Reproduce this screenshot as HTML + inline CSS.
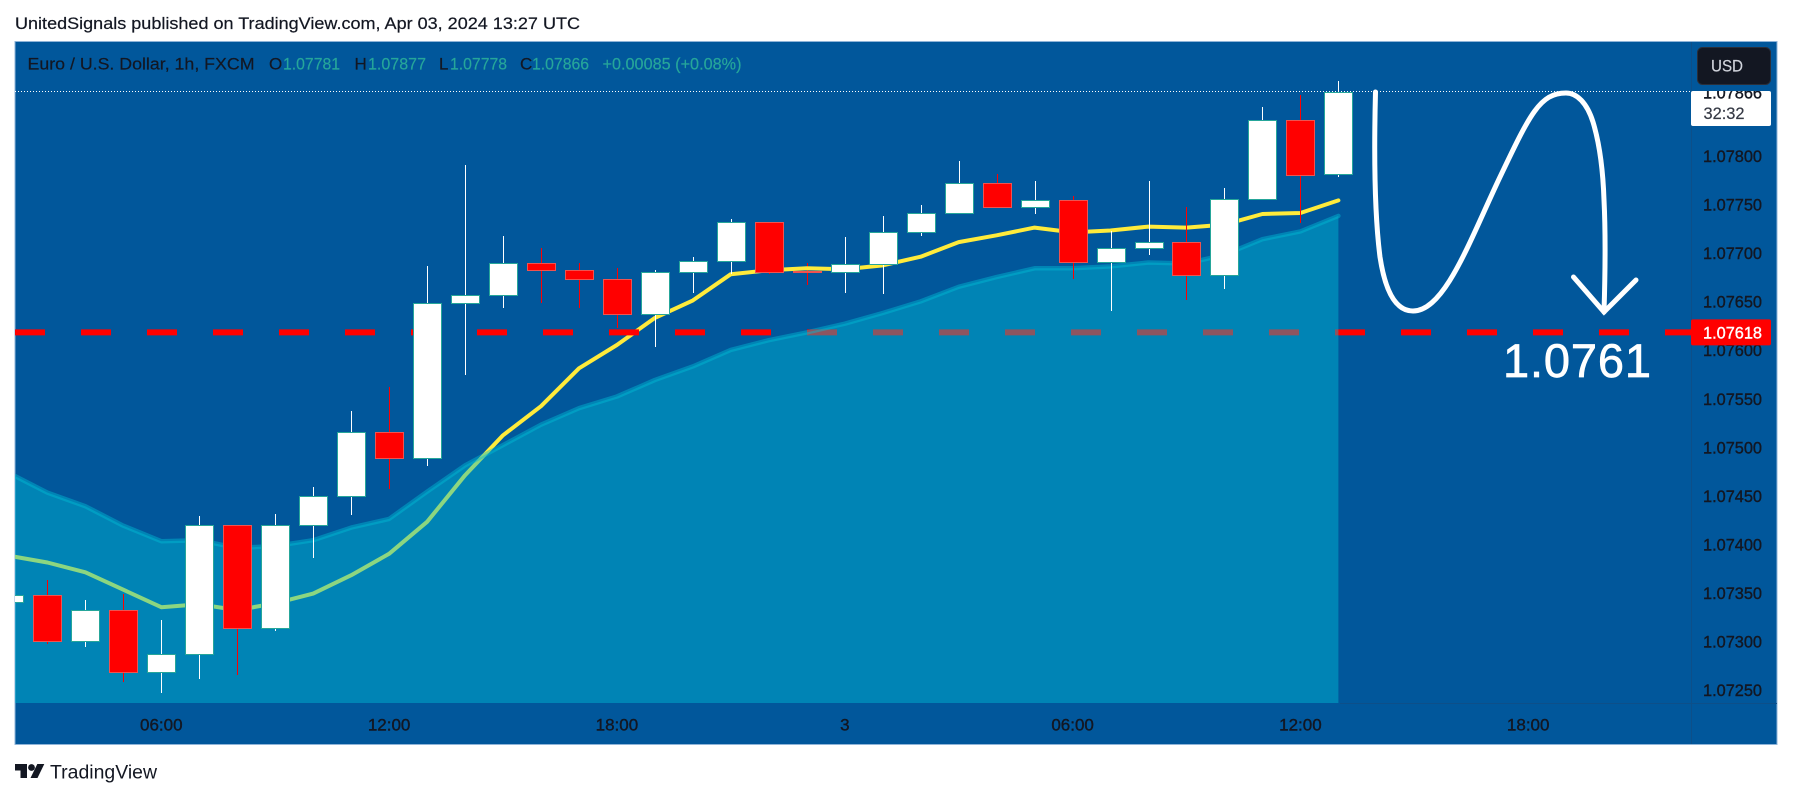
<!DOCTYPE html>
<html>
<head>
<meta charset="utf-8">
<title>EURUSD 1h chart</title>
<style>
html,body{margin:0;padding:0;background:#fff;width:1793px;height:798px;overflow:hidden}
svg{display:block}
text{font-family:"Liberation Sans",sans-serif}
</style>
</head>
<body>
<svg id="chart" xmlns="http://www.w3.org/2000/svg" width="1793" height="798" viewBox="0 0 1793 798">
  <defs>
    <clipPath id="plot-clip"><rect x="15" y="42" width="1676" height="661"/></clipPath>
    <clipPath id="last-clip"><rect x="1691" y="91" width="80" height="35"/></clipPath>
  </defs>
  <rect x="0" y="0" width="1793" height="798" fill="#ffffff"/>
  <text x="15" y="29" font-size="17" fill="#131722" stroke="#131722" stroke-width="0.2" textLength="565" lengthAdjust="spacingAndGlyphs">UnitedSignals published on TradingView.com, Apr 03, 2024 13:27 UTC</text>
  <rect x="15" y="41.5" width="1762" height="703" fill="#01579b" stroke="#8fb4d8" stroke-width="1"/>
  <g id="under-layer" clip-path="url(#plot-clip)"></g>
  <g id="candle-layer" clip-path="url(#plot-clip)"></g>
  <line id="last-line" x1="15" x2="1691" stroke="#ffffff" stroke-width="1" stroke-dasharray="1 2"/>
  <path d="M1375.5 92 C1374 150,1374 210,1380 257 C1385 290,1395 311,1413 311 C1445 311,1470 240,1500 177 S1540 93,1566 93 C1577 93,1587 103,1593 122 C1600 145,1603 170,1604 200 C1606 240,1605 280,1604 312" fill="none" stroke="#ffffff" stroke-width="5" stroke-linecap="round"/>
  <path d="M1573.5 277 L1604 312 L1636 280" fill="none" stroke="#ffffff" stroke-width="5" stroke-linecap="round" stroke-linejoin="miter"/>
  <text x="1503" y="377" font-size="47" fill="#ffffff" stroke="#ffffff" stroke-width="0.7" textLength="148" lengthAdjust="spacing">1.0761</text>
  <line x1="1691.5" x2="1691.5" y1="42" y2="744" stroke="#0d4f89" stroke-width="1"/>
  <line x1="1340" x2="1777" y1="703.5" y2="703.5" stroke="#0d4f89" stroke-width="1"/>
  <g id="y-axis"></g>
  <g id="x-axis"></g>

  <g>
    <rect x="1691" y="91" width="80" height="35" rx="2" fill="#ffffff"/>
    <g clip-path="url(#last-clip)">
      <text id="last-text" x="1703" y="98.5" font-size="17" fill="#131722" stroke="#131722" stroke-width="0.4" textLength="59" lengthAdjust="spacingAndGlyphs"></text>
    </g>
    <text x="1703.5" y="119" font-size="17" fill="#363a45" stroke="#363a45" stroke-width="0.2" textLength="41" lengthAdjust="spacingAndGlyphs">32:32</text>
  </g>
  <g>
    <rect id="level-box" x="1691" width="80" height="26" rx="2" fill="#ff0000"/>
    <text id="level-text" x="1703" font-size="17" fill="#ffffff" stroke="#ffffff" stroke-width="0.4" textLength="59" lengthAdjust="spacingAndGlyphs"></text>
  </g>
  <g>
    <rect x="1697.5" y="47.5" width="73" height="37" rx="5" fill="#131722" stroke="#2a2e39" stroke-width="1"/>
    <text x="1711" y="71.5" font-size="17" fill="#d1d4dc" stroke="#d1d4dc" stroke-width="0.2" textLength="32" lengthAdjust="spacingAndGlyphs">USD</text>
  </g>

  <g font-size="17" stroke-width="0.2">
    <text x="27.5" y="69.5" fill="#131722" stroke="#131722" textLength="227" lengthAdjust="spacingAndGlyphs">Euro / U.S. Dollar, 1h, FXCM</text>
    <text x="269" y="69.5" fill="#131722" stroke="#131722">O</text>
    <text x="283" y="69.5" fill="#26a69a" stroke="#26a69a" textLength="57" lengthAdjust="spacingAndGlyphs">1.07781</text>
    <text x="354.5" y="69.5" fill="#131722" stroke="#131722">H</text>
    <text x="368" y="69.5" fill="#26a69a" stroke="#26a69a" textLength="58" lengthAdjust="spacingAndGlyphs">1.07877</text>
    <text x="439" y="69.5" fill="#131722" stroke="#131722">L</text>
    <text x="450" y="69.5" fill="#26a69a" stroke="#26a69a" textLength="57" lengthAdjust="spacingAndGlyphs">1.07778</text>
    <text x="520" y="69.5" fill="#131722" stroke="#131722">C</text>
    <text x="532" y="69.5" fill="#26a69a" stroke="#26a69a" textLength="57" lengthAdjust="spacingAndGlyphs">1.07866</text>
    <text x="602.5" y="69.5" fill="#26a69a" stroke="#26a69a" textLength="139" lengthAdjust="spacingAndGlyphs">+0.00085 (+0.08%)</text>
  </g>

  <g>
    <path fill="#131722" d="M15 764 H27 V778 H20.5 V770.5 H15 Z M44.3 764 L37.5 778 H30.5 L37.3 764 Z"/>
    <circle cx="31.5" cy="767.5" r="3.4" fill="#131722"/>
    <text x="50" y="778.5" font-size="19" fill="#131722" textLength="107" lengthAdjust="spacingAndGlyphs">TradingView</text>
  </g>
</svg>
<script>
var barOpen = [1.07340,1.07348,1.07300,1.07332,1.07268,1.07287,1.07420,1.07314,1.07420,1.07450,1.07515,1.07489,1.07648,1.07657,1.07689,1.07682,1.07673,1.07637,1.07680,1.07692,1.07732,1.07681,1.07680,1.07688,1.07721,1.07741,1.07772,1.07747,1.07754,1.07691,1.07705,1.07711,1.07677,1.07755,1.07837,1.07781];
var barHigh = [1.07348,1.07363,1.07342,1.07349,1.07322,1.07429,1.07420,1.07431,1.07459,1.07537,1.07562,1.07686,1.07790,1.07717,1.07705,1.07690,1.07684,1.07682,1.07696,1.07735,1.07732,1.07689,1.07716,1.07738,1.07749,1.07795,1.07781,1.07774,1.07758,1.07722,1.07774,1.07747,1.07767,1.07850,1.07862,1.07877];
var barLow = [1.07340,1.07297,1.07294,1.07258,1.07247,1.07261,1.07265,1.07311,1.07386,1.07430,1.07457,1.07480,1.07574,1.07643,1.07648,1.07643,1.07623,1.07603,1.07659,1.07678,1.07678,1.07667,1.07659,1.07658,1.07717,1.07741,1.07747,1.07740,1.07673,1.07640,1.07698,1.07651,1.07663,1.07755,1.07731,1.07778];
var barClose = [1.07348,1.07300,1.07332,1.07268,1.07287,1.07420,1.07314,1.07420,1.07450,1.07515,1.07489,1.07648,1.07657,1.07689,1.07682,1.07673,1.07637,1.07680,1.07692,1.07732,1.07680,1.07680,1.07688,1.07721,1.07741,1.07772,1.07747,1.07754,1.07691,1.07705,1.07711,1.07677,1.07755,1.07837,1.07780,1.07866];
var fastAverage = [1.07388,1.07381,1.07371,1.07353,1.07335,1.07338,1.07332,1.07339,1.07349,1.07368,1.07390,1.07423,1.07471,1.07512,1.07542,1.07581,1.07605,1.07633,1.07651,1.07678,1.07682,1.07684,1.07683,1.07687,1.07696,1.07711,1.07718,1.07726,1.07721,1.07723,1.07727,1.07726,1.07729,1.07740,1.07741,1.07754];
var slowAverage = [1.07473,1.07453,1.07439,1.07419,1.07403,1.07404,1.07396,1.07398,1.07404,1.07417,1.07426,1.07454,1.07481,1.07502,1.07523,1.07540,1.07552,1.07569,1.07583,1.07600,1.07610,1.07618,1.07627,1.07638,1.07650,1.07665,1.07675,1.07684,1.07684,1.07686,1.07690,1.07689,1.07698,1.07714,1.07722,1.07738];
var priceTicks = ["1.07800","1.07750","1.07700","1.07650","1.07600","1.07550","1.07500","1.07450","1.07400","1.07350","1.07300","1.07250"];
var timeLabels = ["06:00","12:00","18:00","3","06:00","12:00","18:00"];
var timeBars = [4,10,16,22,28,34,40];
var levelPrice = 1.07618;
var lastPrice = 1.07866;

var NS = 'http://www.w3.org/2000/svg';
function xScale(i){ return 9.42 + 37.97 * i; }
function yScale(p){ return 155.7 + (1.078 - p) * 97100; }
function make(tag, attrs, parent){
  var el = document.createElementNS(NS, tag);
  for (var k in attrs) el.setAttribute(k, attrs[k]);
  parent.appendChild(el);
  return el;
}
function linePath(values){
  var d = '';
  for (var i = 0; i < values.length; i++) d += (i ? 'L' : 'M') + xScale(i).toFixed(1) + ' ' + yScale(values[i]).toFixed(1);
  return d;
}
var under = document.getElementById('under-layer');
var candleLayer = document.getElementById('candle-layer');

function drawCandle(i, layer){
  var up = barClose[i] >= barOpen[i];
  var cx = Math.round(xScale(i));
  var top = Math.round(yScale(Math.max(barOpen[i], barClose[i])));
  var bot = Math.round(yScale(Math.min(barOpen[i], barClose[i])));
  var hi = Math.round(yScale(barHigh[i]));
  var lo = Math.round(yScale(barLow[i]));
  var g = make('g', {}, layer);
  
  
  var wick = make('rect', {x: cx, y: hi, width: 1, height: Math.max(lo - hi, 1), fill: up ? '#ffffff' : '#ff0000', 'shape-rendering': 'crispEdges'}, g);
  
  
  var body = make('rect', {x: cx - 13.5, y: top + 0.5, width: 28, height: Math.max(bot - top, 1), fill: up ? '#ffffff' : '#ff0000', stroke: up ? '#26a69a' : '#ef5350', 'stroke-width': 1, 'shape-rendering': 'crispEdges'}, g);
  
  
}

for (var t = 0; t < barOpen.length; t++) {
  if (Math.abs(barOpen[t] - barClose[t]) < 0.00002) drawCandle(t, under);
}
var fastLine = make('path', {d: linePath(fastAverage), fill: 'none', stroke: '#ffeb3b', 'stroke-width': 4, 'stroke-linejoin': 'round', 'stroke-linecap': 'round'}, under);



var levelY = yScale(levelPrice);
var levelLine = make('line', {x1: 15, x2: 1691, y1: levelY, y2: levelY, stroke: '#ff0000', 'stroke-width': 6, 'stroke-dasharray': '30 36'}, under);



var lastIdx = slowAverage.length - 1;
var areaFill = make('path', {d: linePath(slowAverage) + 'L' + xScale(lastIdx).toFixed(1) + ' 703L' + xScale(0).toFixed(1) + ' 703Z', fill: '#00bcd4', 'fill-opacity': 0.45}, under);


var areaLine = make('path', {d: linePath(slowAverage), fill: 'none', stroke: '#00bcd4', 'stroke-opacity': 0.45, 'stroke-width': 4.5, 'stroke-linejoin': 'round', 'stroke-linecap': 'round'}, under);



for (var c = 0; c < barOpen.length; c++) {
  if (Math.abs(barOpen[c] - barClose[c]) >= 0.00002) drawCandle(c, candleLayer);
}

var yAxis = document.getElementById('y-axis');
priceTicks.forEach(function(label){
  var tick = make('text', {x: 1703, y: (yScale(parseFloat(label)) + 6.3).toFixed(1), 'font-size': 17, fill: '#131722', stroke: '#131722', 'stroke-width': 0.4, textLength: 59, lengthAdjust: 'spacingAndGlyphs'}, yAxis);
  
  
  tick.textContent = label;
});
var xAxis = document.getElementById('x-axis');
timeLabels.forEach(function(label, i){
  var tick = make('text', {x: xScale(timeBars[i]).toFixed(1), y: 730.5, 'font-size': 17, fill: '#131722', stroke: '#131722', 'stroke-width': 0.4, 'text-anchor': 'middle'}, xAxis);
  
  
  tick.textContent = label;
});

var lastY = Math.floor(yScale(lastPrice)) + 0.5;
var ll = document.getElementById('last-line');
ll.setAttribute('y1', lastY);
ll.setAttribute('y2', lastY);
document.getElementById('last-text').textContent = lastPrice.toFixed(5);
document.getElementById('level-box').setAttribute('y', (levelY - 13).toFixed(1));
var levelText = document.getElementById('level-text');
levelText.setAttribute('y', (levelY + 6.3).toFixed(1));
levelText.textContent = levelPrice.toFixed(5);
</script>
</body>
</html>
